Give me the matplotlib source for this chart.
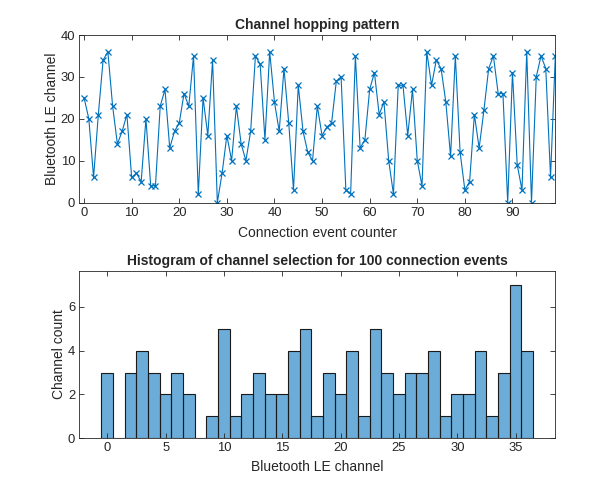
import numpy as np
import matplotlib
matplotlib.use('Agg')
import matplotlib.pyplot as plt

plt.rcParams['font.family'] = ['Liberation Sans', 'DejaVu Sans']

# channel used at each connection event (0..99)
channels = [25, 20, 6, 21, 34, 36, 23, 14, 17, 21,
            6, 7, 5, 20, 4, 4, 23, 27, 13, 17,
            19, 26, 23, 35, 2, 25, 16, 34, 0, 7,
            16, 10, 23, 14, 10, 17, 35, 33, 15, 36,
            24, 17, 32, 19, 3, 28, 17, 12, 10, 23,
            16, 18, 19, 29, 30, 3, 2, 35, 13, 15,
            27, 31, 21, 24, 10, 2, 28, 28, 16, 27,
            10, 4, 36, 28, 34, 32, 24, 11, 35, 12,
            3, 5, 21, 13, 22, 32, 35, 26, 26, 0,
            31, 9, 3, 36, 0, 30, 35, 32, 6, 35]
events = np.arange(len(channels))

axcol = '#262626'
blue = '#0072BD'

fig = plt.figure(figsize=(6.14, 4.92), dpi=100)
W, H = 614.0, 492.0
ax1 = fig.add_axes([79.3 / W, 1 - 202.5 / H, 476 / W, 167.5 / H])
ax2 = fig.add_axes([79.3 / W, 1 - 438.3 / H, 476 / W, 167.6 / H])

ax1.plot(events, channels, '-x', color=blue, lw=0.8, ms=5, mew=0.9)
ax1.set_xlim(-1, 99)
ax1.set_ylim(0, 40)
ax1.set_xticks(np.arange(0, 100, 10))
ax1.set_yticks(np.arange(0, 41, 10))
ax1.set_title('Channel hopping pattern', fontsize=10, fontweight='bold', color=axcol, pad=4)
ax1.set_xlabel('Connection event counter', fontsize=10, color=axcol, labelpad=5)
ax1.set_ylabel('Bluetooth LE channel', fontsize=10, color=axcol, labelpad=1.5)

bins = np.arange(-0.5, 37.5, 1)
ax2.hist(channels, bins=bins, color=blue, alpha=0.58, edgecolor='none')
ax2.hist(channels, bins=bins, histtype='bar', facecolor='none', edgecolor='#1a1a1a', lw=0.8)
ax2.set_xlim(-2.4, 38.4)
ax2.set_ylim(0, 7.65)
ax2.set_xticks(np.arange(0, 36, 5))
ax2.set_yticks(np.arange(0, 7, 2))
ax2.set_title('Histogram of channel selection for 100 connection events', fontsize=10,
              fontweight='bold', color=axcol, pad=4)
ax2.set_xlabel('Bluetooth LE channel', fontsize=10, color=axcol, labelpad=4)
ax2.set_ylabel('Channel count', fontsize=10, color=axcol, labelpad=1.5)

for ax in (ax1, ax2):
    ax.tick_params(direction='in', top=True, right=True, labelsize=9.4, colors=axcol,
                   length=3.5, width=0.6, pad=3)
    for s in ax.spines.values():
        s.set_color(axcol)
        s.set_linewidth(0.6)

fig.savefig('out.png', dpi=100)
